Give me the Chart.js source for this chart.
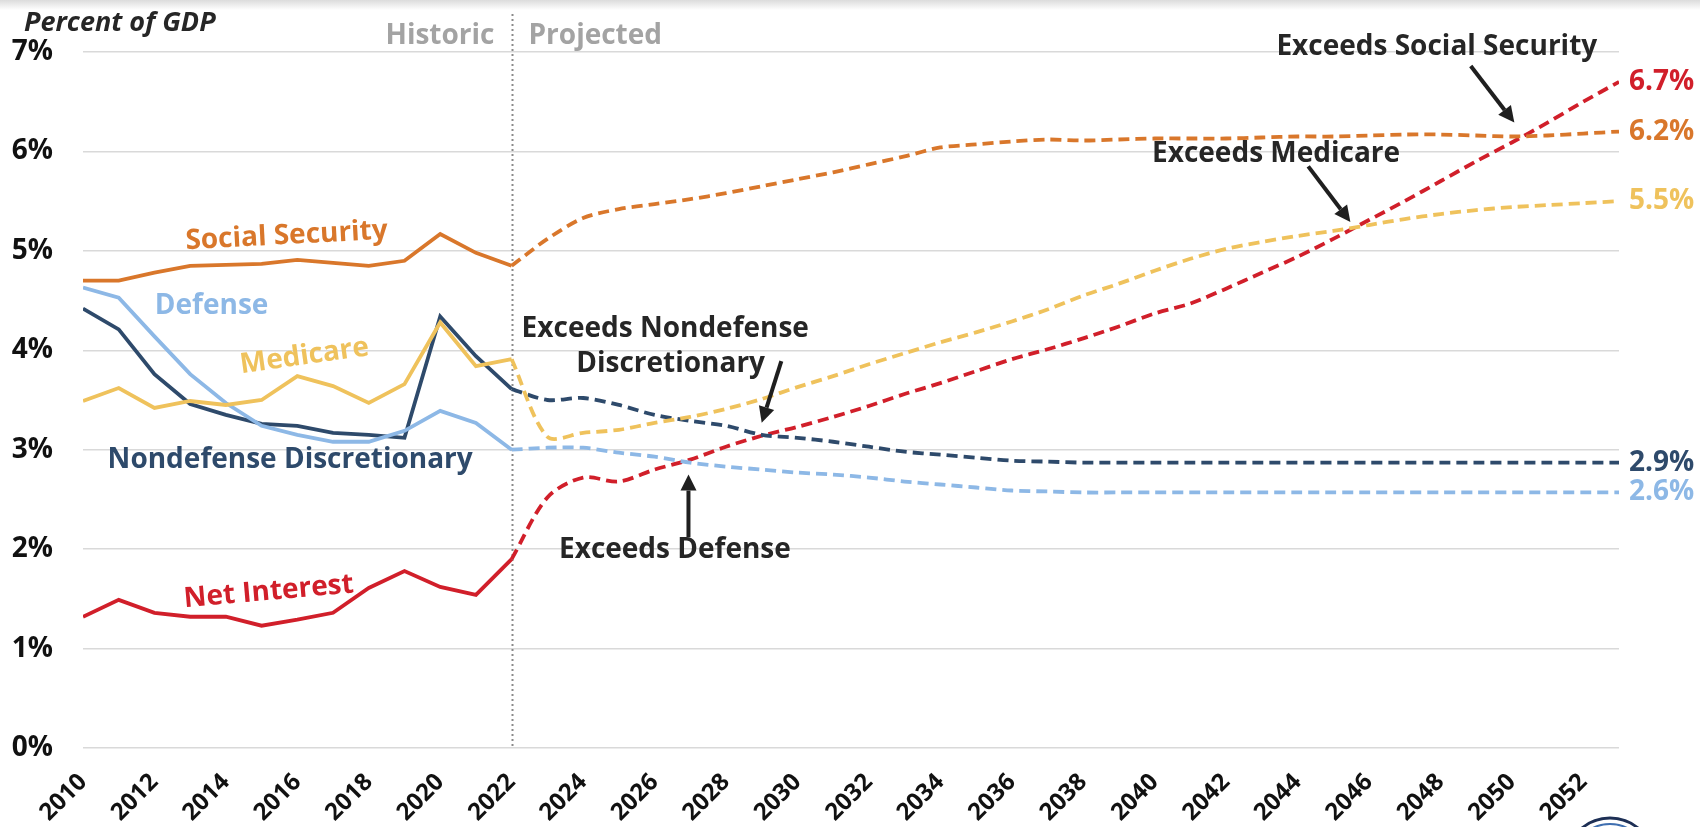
<!DOCTYPE html>
<html lang="en">
<head>
<meta charset="UTF-8">
<title>Net Interest vs Other Spending</title>
<script src="https://cdn.jsdelivr.net/npm/chart.js@4.4.1/dist/chart.umd.min.js"></script>
<style>
    html, body { margin: 0; padding: 0; background: #fff; }
    #wrap { position: relative; width: 1700px; height: 827px; }
</style>
</head>
<body>
<div id="wrap"><canvas id="myChart" width="1700" height="827"></canvas></div>
<script>
// years
const histYears = [2010, 2011, 2012, 2013, 2014, 2015, 2016, 2017, 2018, 2019, 2020, 2021, 2022];
const projYears = [2022, 2023, 2024, 2025, 2026, 2027, 2028, 2029, 2030, 2031, 2032, 2033, 2034, 2035, 2036, 2037,
                   2038, 2039, 2040, 2041, 2042, 2043, 2044, 2045, 2046, 2047, 2048, 2049, 2050, 2051, 2052, 2053];
const xTickYears = [2010, 2012, 2014, 2016, 2018, 2020, 2022, 2024, 2026, 2028, 2030, 2032, 2034, 2036,
                    2038, 2040, 2042, 2044, 2046, 2048, 2050, 2052];
const yTicks = [0, 1, 2, 3, 4, 5, 6, 7];

// percent of GDP, historic (solid) and projected (dashed)
const ssHist  = [4.70, 4.70, 4.78, 4.85, 4.86, 4.87, 4.91, 4.88, 4.85, 4.90, 5.17, 4.98, 4.85];
const ssProj  = [4.85, 5.12, 5.33, 5.42, 5.47, 5.52, 5.58, 5.65, 5.72, 5.79, 5.87, 5.95, 6.04, 6.07, 6.10, 6.12,
                 6.11, 6.12, 6.13, 6.13, 6.13, 6.14, 6.15, 6.15, 6.16, 6.17, 6.17, 6.16, 6.15, 6.16, 6.18, 6.20];
const medHist = [3.49, 3.62, 3.42, 3.49, 3.45, 3.50, 3.74, 3.64, 3.47, 3.66, 4.28, 3.84, 3.91];
const medProj = [3.91, 3.13, 3.17, 3.20, 3.27, 3.33, 3.41, 3.51, 3.63, 3.74, 3.86, 3.97, 4.08, 4.18, 4.29, 4.41,
                 4.55, 4.67, 4.80, 4.92, 5.02, 5.09, 5.15, 5.20, 5.26, 5.32, 5.37, 5.41, 5.44, 5.46, 5.48, 5.50];
const defHist = [4.63, 4.53, 4.14, 3.76, 3.47, 3.24, 3.15, 3.08, 3.08, 3.19, 3.39, 3.27, 3.00];
const defProj = [3.00, 3.02, 3.02, 2.97, 2.93, 2.87, 2.83, 2.80, 2.77, 2.75, 2.72, 2.68, 2.65, 2.62, 2.59, 2.58,
                 2.57, 2.57, 2.57, 2.57, 2.57, 2.57, 2.57, 2.57, 2.57, 2.57, 2.57, 2.57, 2.57, 2.57, 2.57, 2.57];
const ndHist  = [4.42, 4.21, 3.76, 3.46, 3.35, 3.26, 3.24, 3.17, 3.15, 3.12, 4.34, 3.94, 3.61];
const ndProj  = [3.61, 3.50, 3.52, 3.45, 3.35, 3.29, 3.24, 3.15, 3.12, 3.08, 3.03, 2.98, 2.95, 2.92, 2.89, 2.88,
                 2.87, 2.87, 2.87, 2.87, 2.87, 2.87, 2.87, 2.87, 2.87, 2.87, 2.87, 2.87, 2.87, 2.87, 2.87, 2.87];
const niHist  = [1.32, 1.49, 1.36, 1.32, 1.32, 1.23, 1.29, 1.36, 1.61, 1.78, 1.62, 1.54, 1.90];
const niProj  = [1.90, 2.52, 2.72, 2.68, 2.80, 2.90, 3.03, 3.14, 3.23, 3.33, 3.44, 3.56, 3.67, 3.79, 3.91, 4.01,
                 4.12, 4.24, 4.37, 4.47, 4.62, 4.78, 4.94, 5.12, 5.31, 5.50, 5.70, 5.90, 6.09, 6.29, 6.50, 6.70];

const endLabels = ['6.2%', '5.5%', '2.6%', '2.9%', '6.7%'];

const ssColor  = '#D9772B';
const medColor = '#EFC25C';
const defColor = '#8DB8E6';
const ndColor  = '#2E4A6B';
const niColor  = '#D11F2A';
const txtColor = '#262626';
const FONT = '"Open Sans", Lato, sans-serif';

function pts(years, vals) {
    return years.map((y, i) => ({ x: y, y: vals[i] }));
}

const series = [
    { name: 'Social Security', hist: ssHist, proj: ssProj, color: ssColor },
    { name: 'Medicare', hist: medHist, proj: medProj, color: medColor },
    { name: 'Defense', hist: defHist, proj: defProj, color: defColor },
    { name: 'Nondefense Discretionary', hist: ndHist, proj: ndProj, color: ndColor },
    { name: 'Net Interest', hist: niHist, proj: niProj, color: niColor }
];

let datasets = [];
series.forEach((s, i) => {
    datasets.push({
        label: s.name, data: pts(histYears, s.hist),
        borderColor: s.color, borderWidth: 3.8, pointRadius: 0, tension: 0, fill: false
    });
    datasets.push({
        label: s.name + ' (projected)', data: pts(projYears, s.proj),
        borderColor: s.color, borderWidth: 3.8, borderDash: [11, 6], pointRadius: 0,
        tension: 0.3, fill: false, endLabel: endLabels[i]
    });
});

// text labels in data space
const lineLabels = [
    { text: 'Social Security', x: 2015.7, y: 5.15, color: ssColor, rot: -3 },
    { text: 'Defense', x: 2013.6, y: 4.45, color: defColor, rot: 0 },
    { text: 'Medicare', x: 2016.2, y: 3.94, color: medColor, rot: -8 },
    { text: 'Nondefense Discretionary', x: 2015.8, y: 2.90, color: ndColor, rot: 0 },
    { text: 'Net Interest', x: 2015.2, y: 1.57, color: niColor, rot: -5 },
    { text: 'Exceeds Nondefense', x: 2026.3, y: 4.21, color: txtColor, rot: 0 },
    { text: 'Discretionary', x: 2026.45, y: 3.86, color: txtColor, rot: 0 },
    { text: 'Exceeds Defense', x: 2026.57, y: 1.99, color: txtColor, rot: 0 },
    { text: 'Exceeds Social Security', x: 2047.9, y: 7.05, color: txtColor, rot: 0 },
    { text: 'Exceeds Medicare', x: 2043.4, y: 5.97, color: txtColor, rot: 0 }
];
const arrows = [
    { x1: 2029.55, y1: 3.89, x2: 2029.0, y2: 3.27 },
    { x1: 2026.95, y1: 2.12, x2: 2026.95, y2: 2.75 },
    { x1: 2048.85, y1: 6.86, x2: 2050.07, y2: 6.29 },
    { x1: 2044.3, y1: 5.85, x2: 2045.48, y2: 5.29 }
];

const decorPlugin = {
    id: 'decor',
    beforeDraw(chart) {
        const ctx = chart.ctx;
        ctx.save();
        ctx.fillStyle = '#fff';
        ctx.fillRect(0, 0, chart.width, chart.height);
        let g = ctx.createLinearGradient(0, 0, 0, 10);
        g.addColorStop(0, '#dcdcdc');
        g.addColorStop(1, '#ffffff');
        ctx.fillStyle = g;
        ctx.fillRect(0, 0, chart.width, 10);
        // logo edge, bottom right
        ctx.beginPath();
        ctx.arc(1610, 862, 44, 0, Math.PI * 2);
        ctx.strokeStyle = '#1d2f55';
        ctx.lineWidth = 3;
        ctx.stroke();
        ctx.beginPath();
        ctx.arc(1610, 862, 38, 0, Math.PI * 2);
        ctx.strokeStyle = '#3f6fb0';
        ctx.lineWidth = 2;
        ctx.stroke();
        ctx.restore();
    },
    beforeDatasetsDraw(chart) {
        const ctx = chart.ctx, xs = chart.scales.x, area = chart.chartArea;
        const x = Math.round(xs.getPixelForValue(2022)) + 0.5;
        ctx.save();
        ctx.strokeStyle = '#8a8a8a';
        ctx.lineWidth = 2;
        ctx.setLineDash([2, 3]);
        ctx.beginPath();
        ctx.moveTo(x, 14);
        ctx.lineTo(x, area.bottom);
        ctx.stroke();
        ctx.setLineDash([]);
        ctx.font = 'bold 28px ' + FONT;
        ctx.fillStyle = '#a3a3a3';
        ctx.textBaseline = 'middle';
        ctx.textAlign = 'right';
        ctx.fillText('Historic', x - 18, 36);
        ctx.textAlign = 'left';
        ctx.fillText('Projected', x + 16, 36);
        ctx.font = 'italic bold 27px ' + FONT;
        ctx.fillStyle = txtColor;
        ctx.fillText('Percent of GDP', 24, 23);
        ctx.restore();
    },
    afterDatasetsDraw(chart) {
        const ctx = chart.ctx, xs = chart.scales.x, ys = chart.scales.y;
        ctx.save();
        ctx.textBaseline = 'middle';
        ctx.textAlign = 'center';
        ctx.font = 'bold 28px ' + FONT;
        lineLabels.forEach(l => {
            ctx.save();
            ctx.translate(xs.getPixelForValue(l.x), ys.getPixelForValue(l.y));
            ctx.rotate(l.rot * Math.PI / 180);
            ctx.fillStyle = l.color;
            ctx.fillText(l.text, 0, 0);
            ctx.restore();
        });
        // arrows
        ctx.strokeStyle = '#1f1f1f';
        ctx.fillStyle = '#1f1f1f';
        ctx.lineWidth = 4;
        arrows.forEach(a => {
            const x1 = xs.getPixelForValue(a.x1), y1 = ys.getPixelForValue(a.y1);
            const x2 = xs.getPixelForValue(a.x2), y2 = ys.getPixelForValue(a.y2);
            const ang = Math.atan2(y2 - y1, x2 - x1);
            const hl = 16, hw = 8;
            const bx = x2 - hl * Math.cos(ang), by = y2 - hl * Math.sin(ang);
            ctx.beginPath();
            ctx.moveTo(x1, y1);
            ctx.lineTo(bx, by);
            ctx.stroke();
            ctx.beginPath();
            ctx.moveTo(x2, y2);
            ctx.lineTo(bx + hw * Math.sin(ang), by - hw * Math.cos(ang));
            ctx.lineTo(bx - hw * Math.sin(ang), by + hw * Math.cos(ang));
            ctx.closePath();
            ctx.fill();
        });
        // end-of-line values
        ctx.textAlign = 'left';
        ctx.font = 'bold 28px ' + FONT;
        chart.data.datasets.forEach(ds => {
            if (!ds.endLabel) return;
            const last = ds.data[ds.data.length - 1];
            ctx.fillStyle = ds.borderColor;
            ctx.fillText(ds.endLabel, xs.getPixelForValue(last.x) + 10, ys.getPixelForValue(last.y));
        });
        ctx.restore();
    }
};

const ctx = document.getElementById('myChart').getContext('2d');
const myChart = new Chart(ctx, {
    type: 'line',
    data: { datasets: datasets },
    options: {
        responsive: false,
        animation: false,
        layout: { padding: { top: 52, right: 81, bottom: 0, left: 0 } },
        plugins: { legend: { display: false }, tooltip: { enabled: false } },
        scales: {
            x: {
                type: 'linear', min: 2010, max: 2053,
                afterFit: s => { s.height = 79; },
                afterBuildTicks: s => { s.ticks = xTickYears.map(v => ({ value: v })); },
                ticks: {
                    autoSkip: false, minRotation: 45, maxRotation: 45, padding: 12,
                    color: '#111', font: { family: FONT, size: 24, weight: 'bold' },
                    callback: v => String(v)
                },
                grid: { display: false },
                border: { display: false }
            },
            y: {
                min: 0, max: 7,
                afterFit: s => { s.width = 83; },
                afterBuildTicks: s => { s.ticks = yTicks.map(v => ({ value: v })); },
                ticks: {
                    padding: 30,
                    color: '#111', font: { family: FONT, size: 28, weight: 'bold' },
                    callback: v => v + '%'
                },
                grid: { color: '#d9d9d9', lineWidth: 1.5, drawTicks: false },
                border: { display: false }
            }
        }
    },
    plugins: [decorPlugin]
});
</script>
</body>
</html>
